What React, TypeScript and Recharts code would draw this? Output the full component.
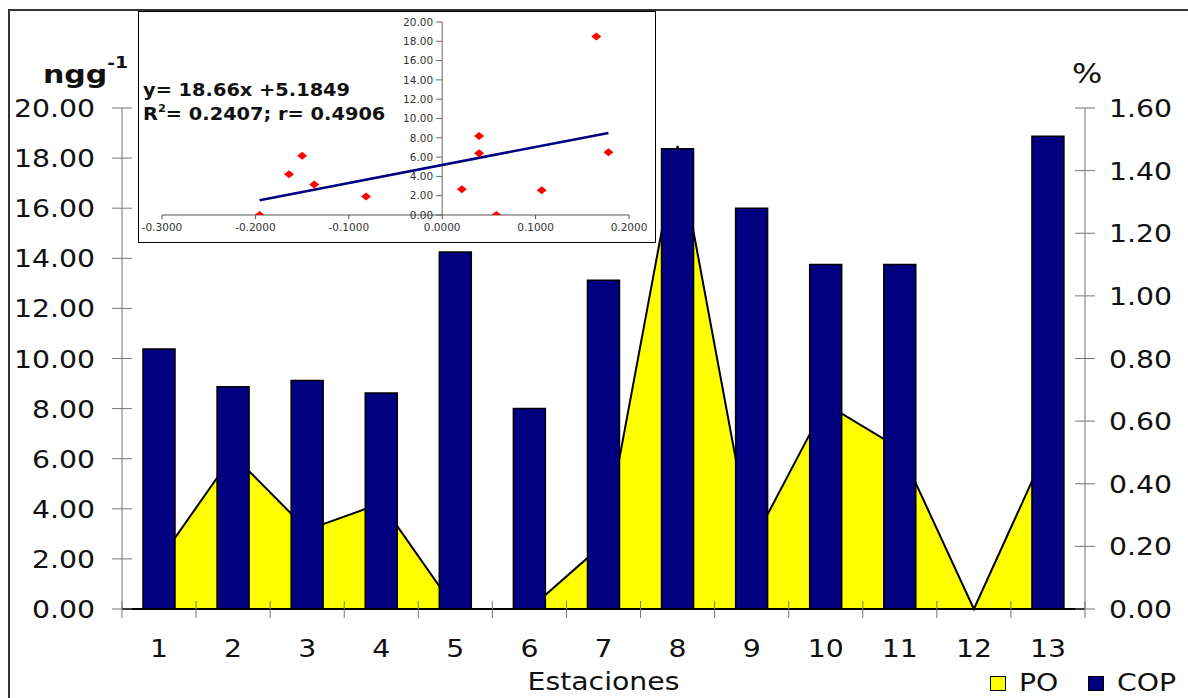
import React from "react";
import {
	ComposedChart,
	Area,
	Bar,
	XAxis,
	YAxis,
	Legend,
	Label,
	ScatterChart,
	Scatter,
	ReferenceLine,
} from "recharts";

// Main chart data
const stations = ["1", "2", "3", "4", "5", "6", "7", "8", "9", "10", "11", "12", "13"];
const poValues = [1.93, 6.15, 3.16, 4.22, 0, 0, 2.6, 18.49, 2.57, 8.19, 6.4, 0, 6.5];
const copValues: Array<number | null> = [0.83, 0.71, 0.73, 0.69, 1.14, 0.64, 1.05, 1.47, 1.28, 1.1, 1.1, null, 1.51];
const leftTicks = [0, 2, 4, 6, 8, 10, 12, 14, 16, 18, 20];
const rightTicks = [0, 0.2, 0.4, 0.6, 0.8, 1.0, 1.2, 1.4, 1.6];
const legendOrder = ["PO", "COP"];

// Inset (log COP vs PO)
const insetX = [-0.1955, -0.164, -0.15, -0.137, -0.0815, 0.021, 0.0395, 0.0395, 0.058, 0.1065, 0.165, 0.178];
const insetY = [0, 4.22, 6.15, 3.16, 1.93, 2.67, 8.19, 6.4, 0, 2.57, 18.49, 6.5];
const insetXTicks = [-0.3, -0.2, -0.1, 0, 0.1, 0.2];
const insetYTicks = [0, 2, 4, 6, 8, 10, 12, 14, 16, 18, 20];
const fitSlope = 18.66;
const fitIntercept = 5.1849;

const FONT = "'DejaVu Sans', Verdana, sans-serif";
const STRETCH = 1.18;
const seriesColors: { [key: string]: string } = { PO: "#FFFF00", COP: "#000080" };

const mainData = stations.map((s, i) => ({ station: s, po: poValues[i], cop: copValues[i] }));
const insetData = insetX.map((x, i) => ({ x, y: insetY[i] }));
const fitX0 = Math.min(...insetX);
const fitX1 = Math.max(...insetX);
const fitSegment = [
	{ x: fitX0, y: fitSlope * fitX0 + fitIntercept },
	{ x: fitX1, y: fitSlope * fitX1 + fitIntercept },
];

const LeftTick = (props: any) => {
	const { x, y, payload } = props;
	return (
		<g>
			<line x1={x - 10} x2={x + 10} y1={y} y2={y} stroke="#777" />
			<text
				transform={`translate(${x - 27},${y + 9}) scale(${STRETCH},1)`}
				textAnchor="end"
				fontSize={24}
				fontFamily={FONT}
				fill="#111"
			>
				{Number(payload.value).toFixed(2)}
			</text>
		</g>
	);
};

const RightTick = (props: any) => {
	const { x, y, payload } = props;
	return (
		<g>
			<line x1={x - 10} x2={x + 10} y1={y} y2={y} stroke="#777" />
			<text
				transform={`translate(${x + 24},${y + 9}) scale(${STRETCH},1)`}
				textAnchor="start"
				fontSize={24}
				fontFamily={FONT}
				fill="#111"
			>
				{Number(payload.value).toFixed(2)}
			</text>
		</g>
	);
};

// category label at the centre, cross ticks on the band edges
const StationTick = (props: any) => {
	const { x, y, payload, index, width, visibleTicksCount } = props;
	const half = typeof payload.offset === "number" && payload.offset > 0 ? payload.offset : width / visibleTicksCount / 2;
	return (
		<g>
			{index === 0 && <line x1={x - half} x2={x - half} y1={y - 8} y2={y + 9} stroke="#777" />}
			<line x1={x + half} x2={x + half} y1={y - 8} y2={y + 9} stroke="#777" />
			<text
				transform={`translate(${x},${y + 48}) scale(${STRETCH},1)`}
				textAnchor="middle"
				fontSize={24}
				fontFamily={FONT}
				fill="#111"
			>
				{payload.value}
			</text>
		</g>
	);
};

const AxisTitle = (props: any) => {
	const vb = props.viewBox;
	return (
		<text
			transform={`translate(${vb.x + vb.width / 2},${vb.y + 81}) scale(${STRETCH},1)`}
			textAnchor="middle"
			fontSize={24}
			fontFamily={FONT}
			fill="#111"
		>
			Estaciones
		</text>
	);
};

const LegendContent = (props: any) => {
	const items = [...(props.payload || [])].sort(
		(a: any, b: any) => legendOrder.indexOf(a.value) - legendOrder.indexOf(b.value)
	);
	return (
		<div style={{ display: "flex", alignItems: "center", height: 30, fontFamily: FONT, fontSize: 24, color: "#111" }}>
			{items.map((e: any) => (
				<div key={e.value} style={{ display: "flex", alignItems: "center", width: 98 }}>
					<span
						style={{
							display: "inline-block",
							width: 16,
							height: 15,
							boxSizing: "border-box",
							border: "1.5px solid #000",
							background: seriesColors[e.value],
							marginRight: 13,
						}}
					/>
					<span
						style={{
							display: "inline-block",
							lineHeight: "24px",
							transform: `scaleX(${STRETCH})`,
							transformOrigin: "left center",
						}}
					>
						{e.value}
					</span>
				</div>
			))}
		</div>
	);
};

const Diamond = (props: any) => {
	const { cx, cy } = props;
	return <polygon points={`${cx - 5},${cy} ${cx},${cy - 4} ${cx + 5},${cy} ${cx},${cy + 4}`} fill="#FF0000" />;
};

function App() {
	return (
		<div
			style={{
				position: "fixed",
				left: 0,
				top: 0,
				width: 1188,
				height: 698,
				overflow: "hidden",
				background: "#fff",
				fontFamily: FONT,
			}}
		>
			<div style={{ position: "absolute", left: 8, top: 8 }}>
				<ComposedChart width={1180} height={690} data={mainData} margin={{ top: 100, right: 0, bottom: 0, left: 0 }}>
					<XAxis
						dataKey="station"
						height={89}
						interval={0}
						axisLine={{ stroke: "#000", strokeWidth: 2 }}
						tickLine={false}
						tickSize={0}
						tickMargin={0}
						tick={<StationTick />}
					>
						<Label content={<AxisTitle />} />
					</XAxis>
					<YAxis
						yAxisId="po"
						orientation="left"
						width={114}
						domain={[0, 20]}
						ticks={leftTicks}
						interval={0}
						axisLine={{ stroke: "#777" }}
						tickLine={false}
						tickSize={0}
						tickMargin={0}
						tick={<LeftTick />}
					/>
					<YAxis
						yAxisId="cop"
						orientation="right"
						width={103}
						domain={[0, 1.6]}
						ticks={rightTicks}
						interval={0}
						axisLine={{ stroke: "#777" }}
						tickLine={false}
						tickSize={0}
						tickMargin={0}
						tick={<RightTick />}
					/>
					<Area
						yAxisId="po"
						dataKey="po"
						name="PO"
						type="linear"
						fill="#FFFF00"
						fillOpacity={1}
						stroke="#000"
						strokeWidth={2}
						dot={false}
						activeDot={false}
						isAnimationActive={false}
					/>
					<Bar
						yAxisId="cop"
						dataKey="cop"
						name="COP"
						barSize={32}
						fill="#000080"
						stroke="#000"
						strokeWidth={1.5}
						isAnimationActive={false}
					/>
					<Legend
						layout="horizontal"
						verticalAlign="middle"
						align="center"
						content={<LegendContent />}
						wrapperStyle={{ position: "absolute", left: 982, top: 660, width: 200, height: 30, right: "auto", bottom: "auto" }}
					/>
				</ComposedChart>
			</div>

			{/* outer frame */}
			<div
				style={{
					position: "absolute",
					left: 8,
					top: 9,
					width: 1200,
					height: 720,
					borderLeft: "2px solid #333",
					borderTop: "2px solid #333",
					pointerEvents: "none",
				}}
			/>

			{/* inset regression chart */}
			<div
				style={{
					position: "absolute",
					left: 138,
					top: 11,
					width: 518,
					height: 232,
					boxSizing: "border-box",
					border: "1.5px solid #000",
					background: "#fff",
				}}
			>
				<ScatterChart width={515} height={229} margin={{ top: 10, right: 25, bottom: 0, left: 23 }}>
					<XAxis
						type="number"
						dataKey="x"
						domain={[-0.3, 0.2]}
						ticks={insetXTicks}
						interval={0}
						allowDataOverflow
						height={26}
						tickSize={4}
						tickMargin={5}
						stroke="#555"
						tickFormatter={(v: number) => v.toFixed(4)}
						tick={{ fontSize: 10.5, fill: "#333", fontFamily: FONT }}
					/>
					<YAxis type="number" dataKey="y" domain={[0, 20]} hide allowDataOverflow />
					<ReferenceLine x={0} stroke="#666" />
					{insetYTicks.map((v) => (
						<ReferenceLine
							key={v}
							segment={[
								{ x: -0.0065, y: v },
								{ x: 0, y: v },
							]}
							stroke="#666"
							label={{ value: v.toFixed(2), position: "left", offset: 3, fontSize: 10.5, fill: "#333", fontFamily: FONT }}
						/>
					))}
					<ReferenceLine segment={fitSegment} stroke="#000080" strokeWidth={2.5} />
					<Scatter data={insetData} fill="#FF0000" shape={<Diamond />} isAnimationActive={false} />
				</ScatterChart>
			</div>

			{/* titles and regression text */}
			<svg
				width={1188}
				height={698}
				style={{ position: "absolute", left: 0, top: 0, pointerEvents: "none" }}
			>
				<text transform="translate(43,83) scale(1.25,1)" fontSize={24} fontWeight="bold" fontFamily={FONT} fill="#111">
					ngg
					<tspan fontSize={15} dy={-15}>
						-1
					</tspan>
				</text>
				<text transform={`translate(1072,83) scale(${STRETCH},1)`} fontSize={27} fontFamily={FONT} fill="#111">
					%
				</text>
				<text transform="translate(143,96) scale(1.14,1)" fontSize={17} fontWeight="bold" fontFamily={FONT} fill="#111">
					y= 18.66x +5.1849
				</text>
				<text transform="translate(143,120) scale(1.14,1)" fontSize={17} fontWeight="bold" fontFamily={FONT} fill="#111">
					R
					<tspan fontSize={10} dy={-8}>
						2
					</tspan>
					<tspan dy={8}>= 0.2407; r= 0.4906</tspan>
				</text>
			</svg>
		</div>
	);
}

export default App;
